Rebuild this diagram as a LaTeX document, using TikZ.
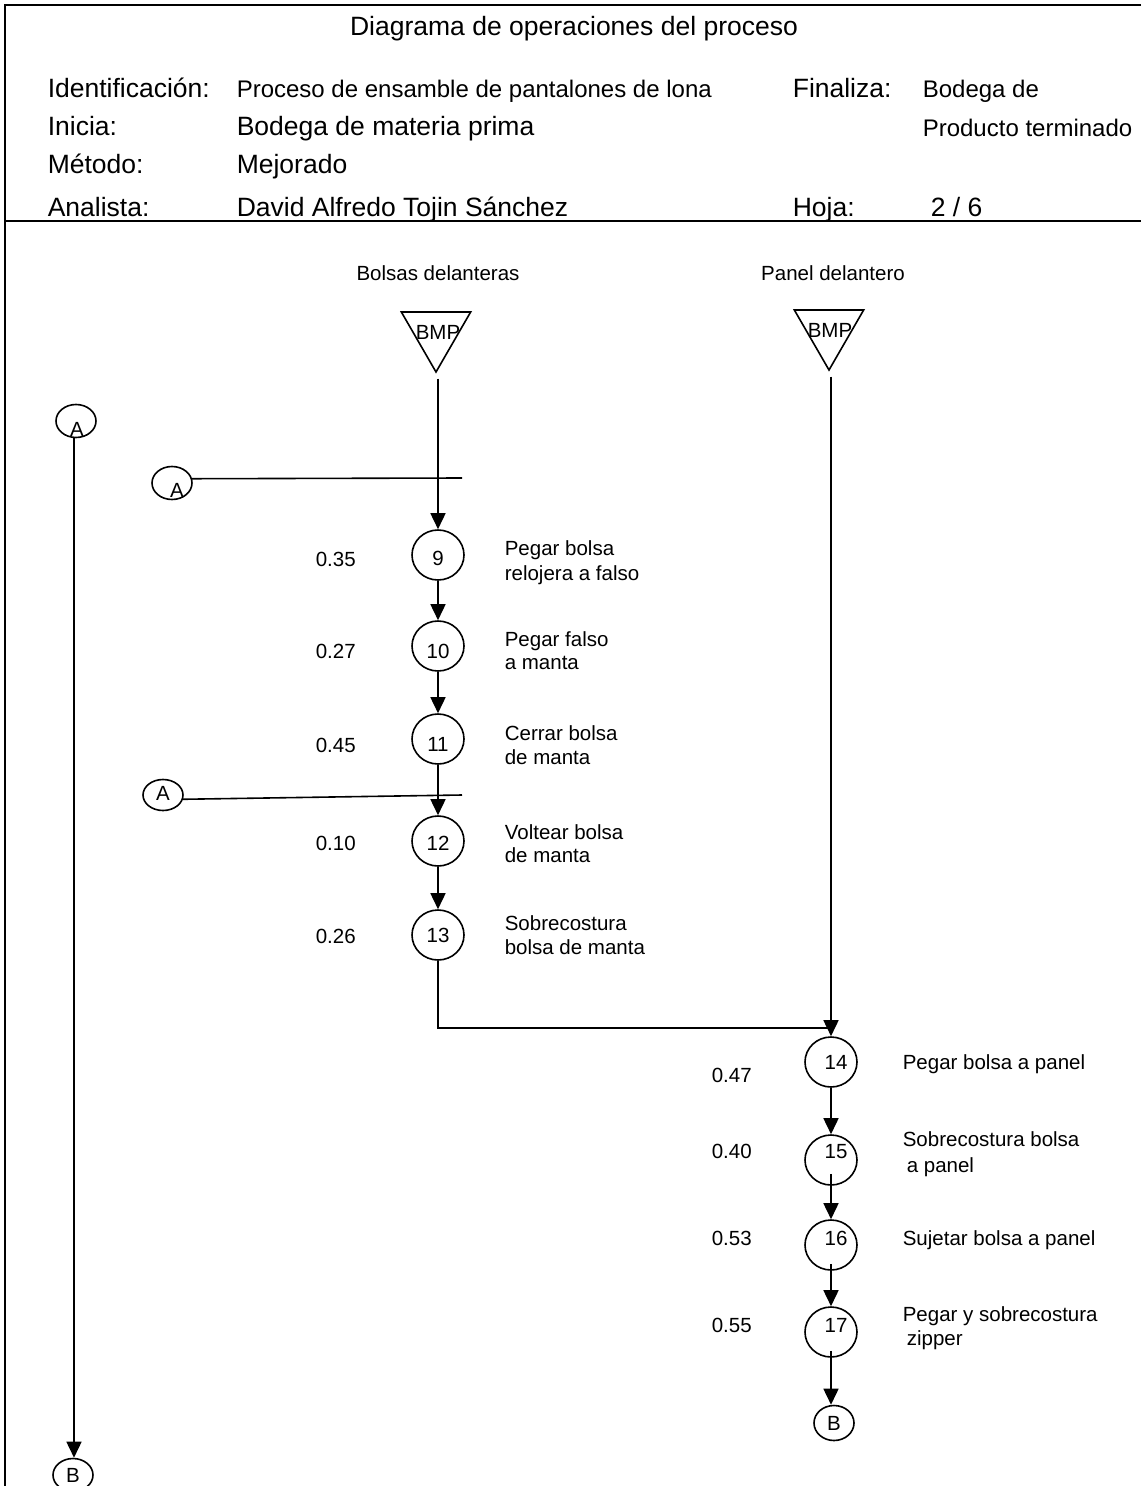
\documentclass[tikz,border=0pt]{standalone}
\usepackage{fontspec}
\setmainfont{Liberation Sans}
\usetikzlibrary{arrows.meta,shapes.geometric,calc}
\begin{document}
\begin{tikzpicture}[x=1pt,y=-1pt,line width=1.6pt,
  big/.style={font=\fontsize{26.5}{30}\selectfont,inner sep=0pt,anchor=base west},
  small/.style={font=\fontsize{24}{28}\selectfont,inner sep=0pt,anchor=base west},
  txt/.style={font=\fontsize{20.5}{24}\selectfont,inner sep=0pt,anchor=base west},
  num/.style={font=\fontsize{20.5}{24}\selectfont,inner sep=0pt},
  op/.style={draw,ellipse,minimum width=52pt,minimum height=50pt,inner sep=0pt},
  conn/.style={draw,ellipse,minimum width=40pt,minimum height=33pt,inner sep=0pt},
  store/.style={draw,regular polygon,regular polygon sides=3,shape border rotate=180,minimum size=80pt,inner sep=0pt},
  flow/.style={-{Triangle[width=15pt,length=16pt]}}]
\useasboundingbox (0,0) rectangle (1141,1486);
% frame
\draw[line width=2pt] (1141,5) -- (5,5) -- (5,1486);
\draw[line width=2pt] (5,221) -- (1141,221);
% header
\node[big,anchor=base] (title) at (574,35) {Diagrama de operaciones del proceso};
\node[big] (l1) at (47,97.5) {Identificación:};
\node[small] (v1) at (236,97.5) {Proceso de ensamble de pantalones de lona};
\node[big] (l2) at (47,135.5) {Inicia:};
\node[big] (v2) at (236,135.5) {Bodega de materia prima};
\node[big] (l3) at (47,173.5) {Método:};
\node[big] (v3) at (236,173.5) {Mejorado};
\node[big] (l4) at (47,216) {Analista:};
\node[big] (v4) at (236,216) {David Alfredo Tojin Sánchez};
\node[big] (l5) at (792,97.5) {Finaliza:};
\node[small] (v5a) at (922,97.5) {Bodega de};
\node[small] (v5b) at (922,136.5) {Producto terminado};
\node[big] (l6) at (792,216) {Hoja:};
\node[big] (v6) at (930,216) {2 / 6};
% column titles
\node[txt,anchor=base] (t1) at (438,280) {Bolsas delanteras};
\node[txt,anchor=base] (t2) at (833,280) {Panel delantero};
% storages
\node[store,label={[num,xshift=2pt]center:BMP}] (bmp1) at (436,332) {};
\node[store,label={[num,xshift=1pt]center:BMP}] (bmp2) at (829,330) {};
% operations column 1
\node[op,label={[num,yshift=-3pt]center:9}] (o9) at (438,555) {};
\node[op,label={[num,yshift=-5pt]center:10}] (o10) at (438,646) {};
\node[op,label={[num,yshift=-5pt]center:11}] (o11) at (438,739) {};
\node[op,label={[num,yshift=-2pt]center:12}] (o12) at (438,841) {};
\node[op,label={[num]center:13}] (o13) at (438,935) {};
% operations column 2
\node[op,label={[num,xshift=5pt]center:14}] (o14) at (831,1062) {};
\node[op,label={[num,xshift=5pt,yshift=8pt]center:15}] (o15) at (831,1160) {};
\node[op,label={[num,xshift=5pt,yshift=7pt]center:16}] (o16) at (831,1245) {};
\node[op,label={[num,xshift=5pt,yshift=7pt]center:17}] (o17) at (831,1332) {};
% connectors A/B
\node[conn,label={[num,xshift=1pt,yshift=-8pt]center:A}] (A1) at (76,421) {};
\node[conn,label={[num,xshift=5pt,yshift=-7pt]center:A}] (A2) at (172,483) {};
\node[conn,minimum height=31pt,label={[num,yshift=2pt]center:A}] (A3) at (163,795) {};
\node[conn,label={[num]center:B}] (B1) at (73,1475) {};
\node[conn,minimum height=35pt,label={[num]center:B}] (B2) at (834,1423) {};
% times
\node[txt] (d9) at (315,566) {0.35};
\node[txt] (d10) at (315,658) {0.27};
\node[txt] (d11) at (315,752) {0.45};
\node[txt] (d12) at (315,850) {0.10};
\node[txt] (d13) at (315,943) {0.26};
\node[txt] (d14) at (711,1082) {0.47};
\node[txt] (d15) at (711,1158) {0.40};
\node[txt] (d16) at (711,1245) {0.53};
\node[txt] (d17) at (711,1332) {0.55};
% descriptions
\node[txt] (n9a) at (504,555) {Pegar bolsa};
\node[txt] (n9b) at (504,580) {relojera a falso};
\node[txt] (n10a) at (504,646) {Pegar falso};
\node[txt] (n10b) at (504,669) {a manta};
\node[txt] (n11a) at (504,740) {Cerrar bolsa};
\node[txt] (n11b) at (504,764) {de manta};
\node[txt] (n12a) at (504,839) {Voltear bolsa};
\node[txt] (n12b) at (504,862) {de manta};
\node[txt] (n13a) at (504,930) {Sobrecostura};
\node[txt] (n13b) at (504,954) {bolsa de manta};
\node[txt] (n14) at (902,1069) {Pegar bolsa a panel};
\node[txt] (n15a) at (902,1146) {Sobrecostura bolsa};
\node[txt] (n15b) at (906,1172) {a panel};
\node[txt] (n16) at (902,1245) {Sujetar bolsa a panel};
\node[txt] (n17a) at (902,1321) {Pegar y sobrecostura};
\node[txt] (n17b) at (906,1345) {zipper};
% flow lines
\coordinate (s1) at ($(bmp1.corner 1)+(0,5)$);
\coordinate (s2) at ($(bmp2.corner 1)+(0,5)$);
\draw[flow] (s1 -| o9) -- (o9.north);
\draw[flow] (o9.south) -- (o10.north);
\draw[flow] (o10.south) -- (o11.north);
\draw[flow] (o11.south) -- (o12.north);
\draw[flow] (o12.south) -- (o13.north);
\coordinate (join) at (o14 |- 0,1028);
\draw (o13.south) |- (join);
\draw[flow] (s2 -| o14) -- (o14.north);
\draw[flow] (o14.south) -- (o15.north);
\draw[flow] ($(o15.south)+(0,-12)$) -- (o16.north);
\draw[flow] ($(o16.south)+(0,-7)$) -- (o17.north);
\draw[flow] ($(o17.south)+(0,-7)$) -- (o17.south |- B2.north);
% off-page connector lines
\coordinate (e2) at (462,478);
\coordinate (e3) at (462,795);
\draw (A2.12) -- (e2);
\draw (A3.-12) -- (e3);
\draw[flow] (A1.south -| 74,0) -- (B1.north -| 74,0);
\end{tikzpicture}
\end{document}
